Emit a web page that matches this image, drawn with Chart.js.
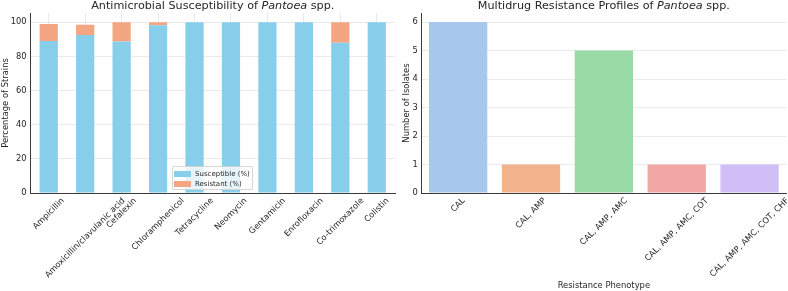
<!DOCTYPE html>
<html>
<head>
<meta charset="utf-8">
<script src="https://cdn.jsdelivr.net/npm/chart.js@4.4.0/dist/chart.umd.min.js"></script>
<style>
  body { margin: 0; width: 788px; height: 291px; overflow: hidden; background: #fff;
         font-family: "DejaVu Sans", sans-serif; color: #262626; position: relative; }
  canvas { position: absolute; top: 0; }
  .title { position: absolute; top: -0.5px; font-size: 11.2px; line-height: 12px; white-space: nowrap;
           transform: translateX(-50%); }
  .legend { position: absolute; left: 172px; top: 166px; width: 81px; height: 24px; box-sizing: border-box;
            background: rgba(255,255,255,0.8); border: 1px solid rgba(204,204,204,0.8); border-radius: 2px;
            font-size: 7px; z-index: 2; }
  .legend .sw { position: absolute; left: 1px; width: 17px; height: 5.5px; }
  .legend .tx { position: absolute; left: 22px; line-height: 8px; }
</style>
</head>
<body>
<canvas id="left" width="396" height="291" style="left:0"></canvas>
<canvas id="right" width="392" height="291" style="left:396px"></canvas>
<div class="title" style="left:212.75px">Antimicrobial Susceptibility of <i>Pantoea</i> spp.</div>
<div class="title" style="left:603.85px">Multidrug Resistance Profiles of <i>Pantoea</i> spp.</div>
<div class="legend">
  <div class="sw" style="top:4px;background:#87ceeb"></div><div class="tx" style="top:2.5px">Susceptible (%)</div>
  <div class="sw" style="top:14px;background:#f4a582"></div><div class="tx" style="top:12.5px">Resistant (%)</div>
</div>
<script>
/* ---------- DATA ---------- */
const antibiotics = ['Ampicillin', 'Amoxicillin/clavulanic acid', 'Cefalexin', 'Chloramphenicol',
  'Tetracycline', 'Neomycin', 'Gentamicin', 'Enrofloxacin', 'Co-trimoxazole', 'Colistin'];
const susceptible = [89, 92.5, 88.7, 98.2, 100, 100, 100, 100, 88, 100];
const resistant = [10, 6, 11.3, 1.8, 0, 0, 0, 0, 12, 0];
const pctTicks = [0, 20, 40, 60, 80, 100];

const phenotypes = ['CAL', 'CAL, AMP', 'CAL, AMP, AMC', 'CAL, AMP, AMC, COT', 'CAL, AMP, AMC, COT, CHF'];
const isolates = [6, 1, 5, 1, 1];
const countTicks = [0, 1, 2, 3, 4, 5, 6];

/* ---------- STYLE ---------- */
const INK = '#262626';
const GRID = '#e4e4e4';
const SPINE = '#3a3a3a';
const FONT = '"DejaVu Sans", sans-serif';
const pastel = ['#a7c7ec', '#f2b48d', '#98d9a5', '#f0a7a6', '#cfbff6'];

// x labels rotated 45deg but centred on the tick (matplotlib ha='center')
const slantLabels = {
  id: 'slantLabels',
  afterDraw(chart) {
    const sc = chart.scales.x, ctx = chart.ctx;
    const h = 9.6, top = sc.top + 3;
    ctx.save();
    ctx.font = '8.3px ' + FONT;
    ctx.fillStyle = INK;
    ctx.textAlign = 'center';
    ctx.textBaseline = 'middle';
    chart.data.labels.forEach((lab, i) => {
      const w = ctx.measureText(lab).width;
      const half = (w + h) / (2 * Math.SQRT2);
      ctx.save();
      ctx.translate(sc.getPixelForTick(i), top + half);
      ctx.rotate(-Math.PI / 4);
      ctx.fillText(lab, 0, 0);
      ctx.restore();
    });
    ctx.restore();
  }
};

function yAxis(max, ticks, title, yWidth, titlePad) {
  return {
    min: 0, max: max,
    afterFit: s => { s.width = yWidth; },
    afterBuildTicks: s => { s.ticks = ticks.map(v => ({ value: v })); },
    grid: { color: GRID, lineWidth: 0.8, drawTicks: false },
    border: { display: true, color: SPINE, width: 1, z: 1 },
    ticks: { color: INK, font: { family: FONT, size: 8.3 }, padding: 4 },
    title: { display: true, text: title, color: INK, font: { family: FONT, size: 8.4 },
             padding: { top: titlePad, bottom: 0 } }
  };
}

function xAxis(vgrid, title) {
  return {
    stacked: true,
    afterFit: s => { s.height = 98; },
    grid: { display: vgrid, offset: false, color: GRID, lineWidth: 0.8, drawTicks: false },
    border: { display: true, color: SPINE, width: 1, z: 1 },
    ticks: { display: false },
    title: { display: !!title, text: title || '', color: INK, font: { family: FONT, size: 8.4 },
             padding: { top: 0, bottom: 0 } }
  };
}

/* ---------- LEFT: stacked susceptibility ---------- */
const leftYAxis = yAxis(105.4, pctTicks, 'Percentage of Strains', 30.5, 1);
leftYAxis.stacked = true;
new Chart(document.getElementById('left').getContext('2d'), {
  type: 'bar',
  data: {
    labels: antibiotics,
    datasets: [
      { label: 'Susceptible (%)', data: susceptible, backgroundColor: '#87ceeb',
        barPercentage: 0.5, categoryPercentage: 1 },
      { label: 'Resistant (%)', data: resistant, backgroundColor: '#f4a582',
        barPercentage: 0.5, categoryPercentage: 1 }
    ]
  },
  options: {
    responsive: false, animation: false,
    layout: { padding: { top: 13, right: 1, left: 0, bottom: 0 } },
    plugins: { legend: { display: false }, tooltip: { enabled: false } },
    scales: { x: xAxis(true), y: leftYAxis }
  },
  plugins: [slantLabels]
});

/* ---------- RIGHT: multidrug profiles ---------- */
new Chart(document.getElementById('right').getContext('2d'), {
  type: 'bar',
  data: {
    labels: phenotypes,
    datasets: [{ label: 'Number of Isolates', data: isolates, backgroundColor: pastel,
                 barPercentage: 0.8, categoryPercentage: 1 }]
  },
  options: {
    responsive: false, animation: false,
    layout: { padding: { top: 13, right: 2, left: 0, bottom: 0 } },
    plugins: { legend: { display: false }, tooltip: { enabled: false } },
    scales: { x: xAxis(false, 'Resistance Phenotype'), y: yAxis(6.32, countTicks, 'Number of Isolates', 25.7, 5.3) }
  },
  plugins: [slantLabels]
});
</script>
</body>
</html>
